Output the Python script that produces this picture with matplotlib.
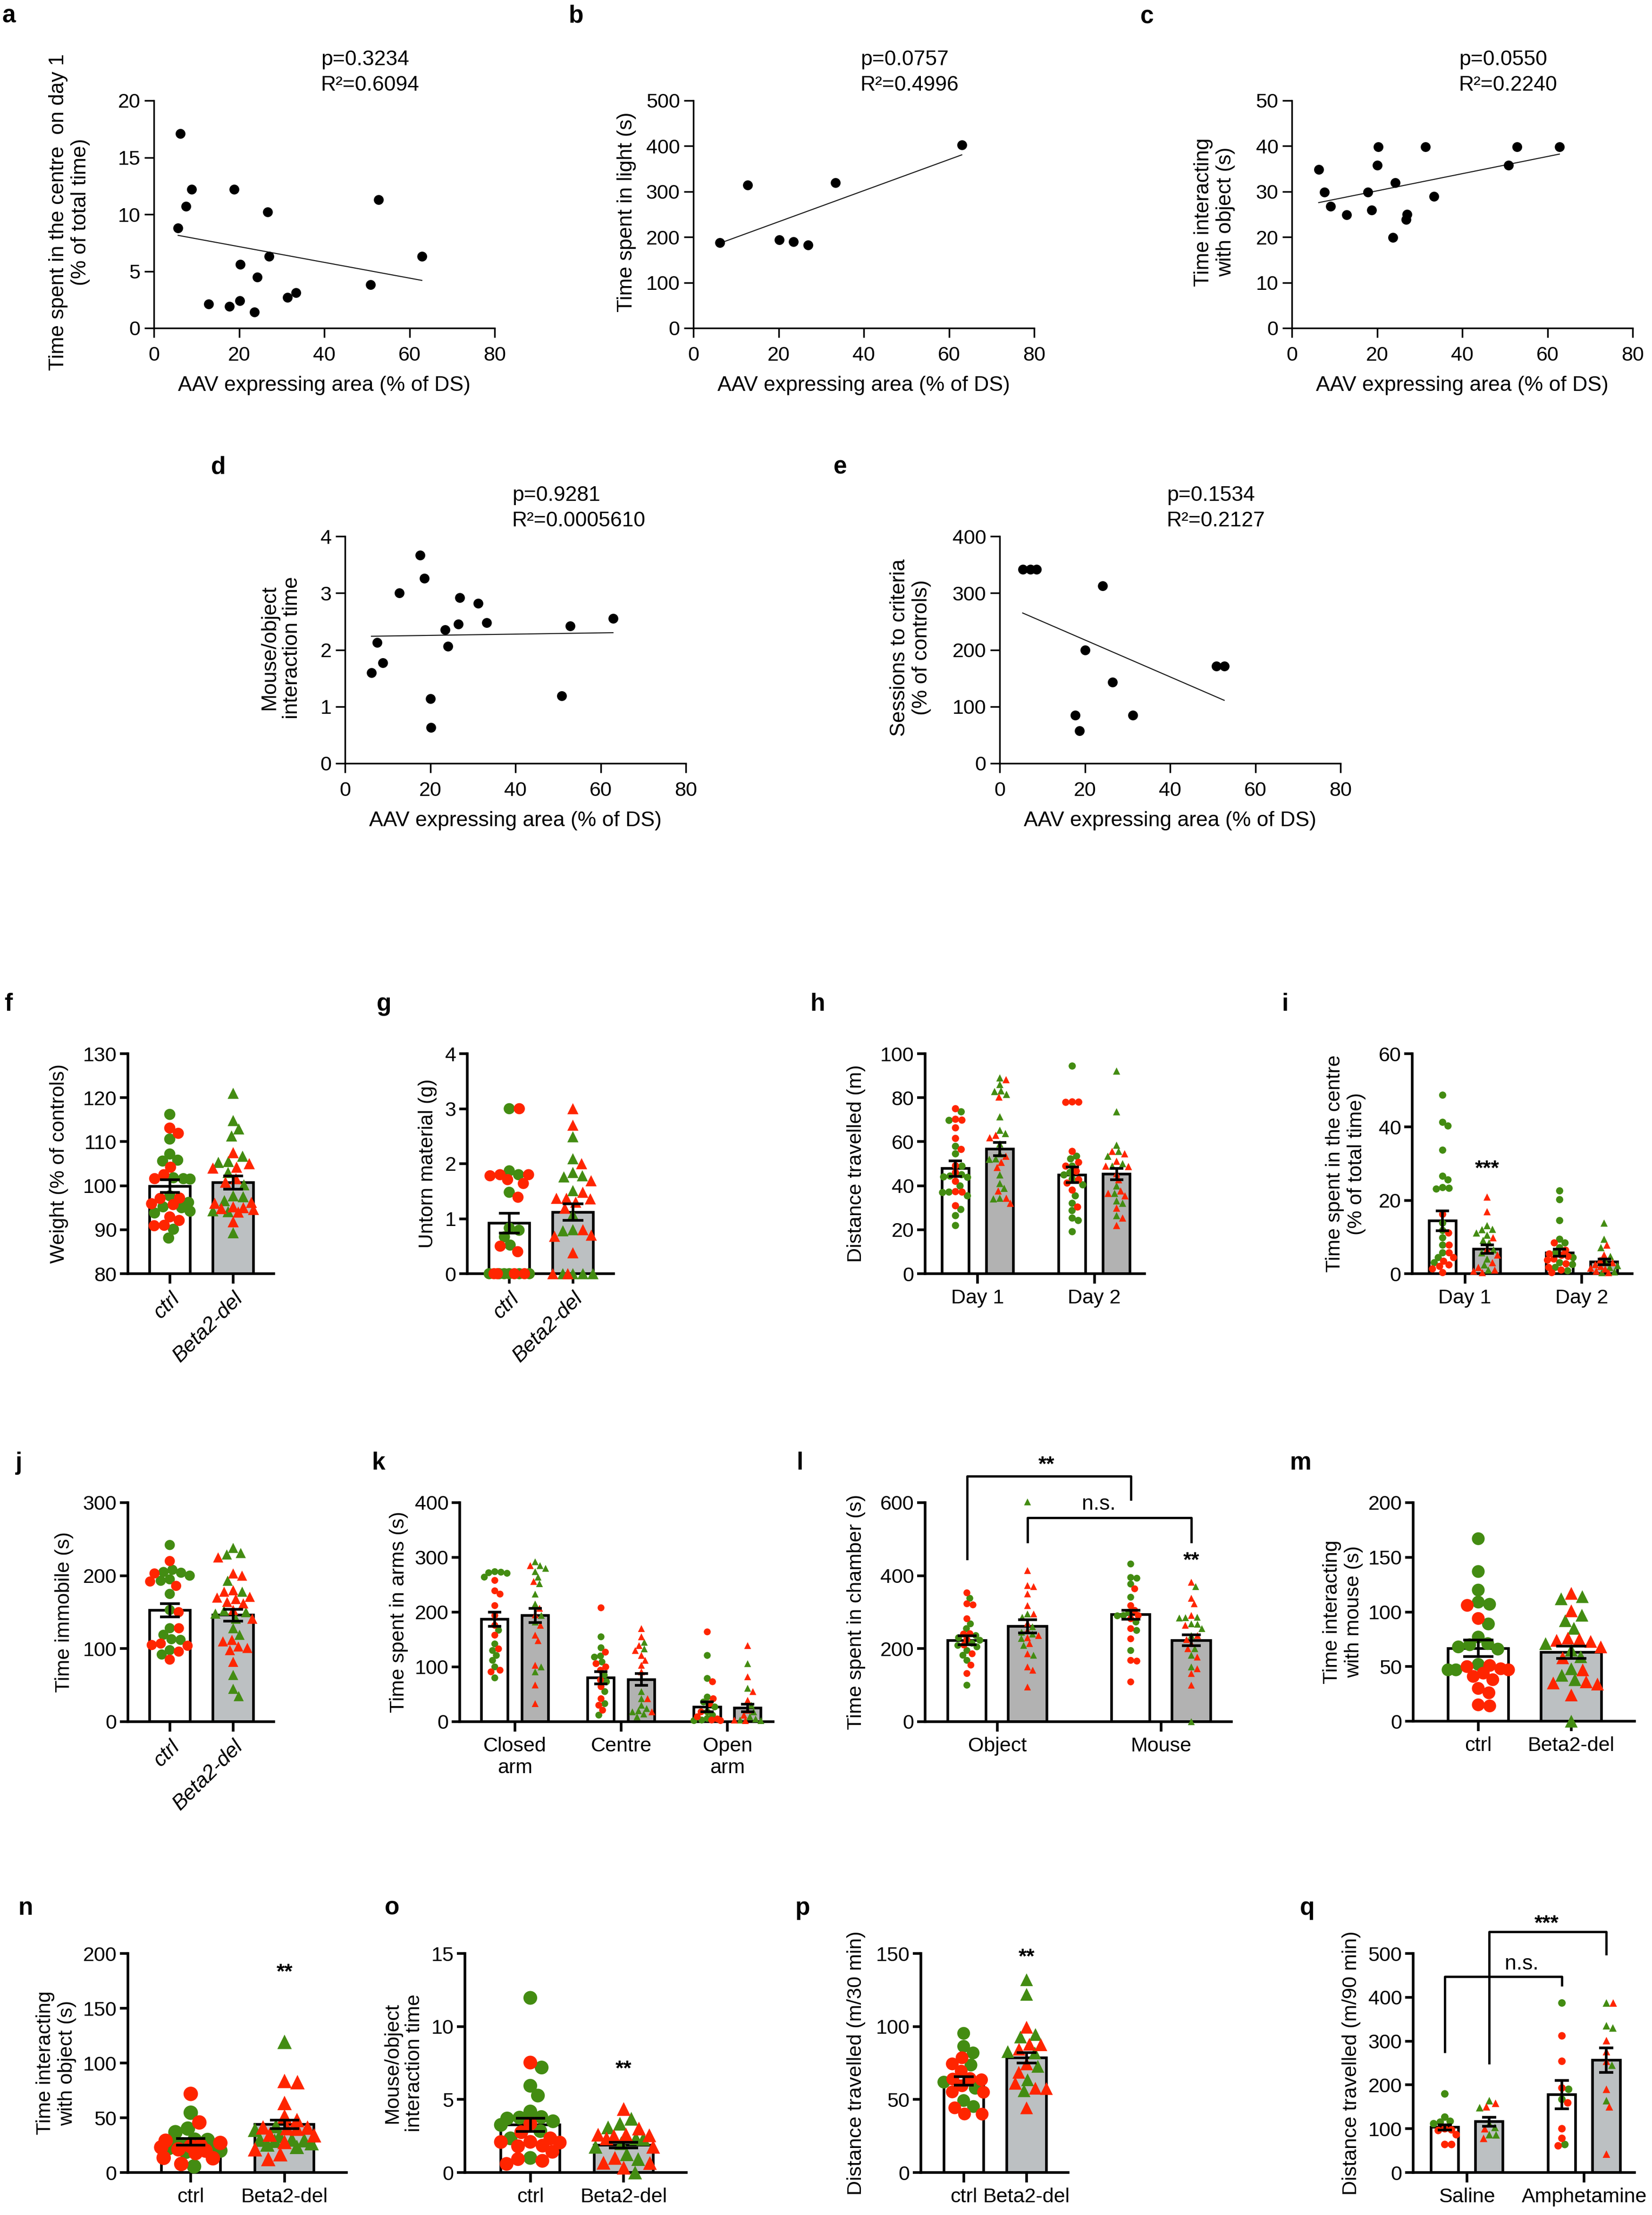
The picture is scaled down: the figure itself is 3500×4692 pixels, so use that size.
import numpy as np
import matplotlib
matplotlib.use('Agg')
import matplotlib.pyplot as plt

# ---------------- data ----------------
# a-e: AAV expressing area (% of DS) against behaviour
a_x = [5.7, 6.2, 7.5, 8.9, 12.8, 17.7, 18.8, 20.2, 20.3, 23.6, 24.3, 26.7, 27.0, 31.4, 33.3, 50.9, 52.7, 62.9]
a_y = [8.8, 17.1, 10.7, 12.2, 2.1, 1.9, 12.2, 2.4, 5.6, 1.4, 4.5, 10.2, 6.3, 2.7, 3.1, 3.8, 11.3, 6.3]
b_x = [6.2, 12.7, 20.2, 23.5, 26.9, 33.3, 63.0]
b_y = [188, 314, 194, 190, 183, 320, 403]
c_x = [6.3, 7.6, 9.1, 12.9, 17.8, 18.7, 20.1, 20.3, 23.7, 24.3, 26.8, 27.0, 31.4, 33.4, 50.9, 52.8, 62.8]
c_y = [34.9, 29.9, 26.8, 24.9, 29.9, 25.9, 35.8, 39.8, 19.9, 31.9, 23.9, 25.0, 39.8, 28.9, 35.8, 39.8, 39.8]
d_x = [6.2, 7.5, 8.9, 12.7, 17.6, 18.6, 20.0, 20.2, 23.5, 24.2, 26.6, 26.9, 31.2, 33.2, 50.9, 52.8, 62.9]
d_y = [1.60, 2.13, 1.77, 3.00, 3.67, 3.26, 1.14, 0.63, 2.35, 2.06, 2.45, 2.92, 2.82, 2.48, 1.19, 2.42, 2.55]
e_x = [5.4, 7.2, 8.6, 17.7, 18.7, 20.0, 24.1, 26.5, 31.3, 50.9, 52.7]
e_y = [342, 342, 342, 85, 57, 200, 313, 143, 85, 171, 171]
stats_p = ['p=0.3234', 'p=0.0757', 'p=0.0550', 'p=0.9281', 'p=0.1534']
stats_r2 = ['R²=0.6094', 'R²=0.4996', 'R²=0.2240', 'R²=0.0005610', 'R²=0.2127']

# f: weight
f_ctrl_green = [116.2, 110.6, 107.2, 105.8, 105.6, 101.8, 101.6, 101.5, 97.7, 96.2, 95.2, 95.0, 94.2, 93.8, 90.1, 88.1]
f_ctrl_red = [113.1, 111.9, 104.2, 102.5, 101.6, 97.2, 97.1, 95.9, 95.7, 92.9, 92.1, 91.0, 90.9]
f_del_green = [121.0, 114.8, 112.9, 111.3, 106.7, 105.5, 105.3, 103.0, 100.2, 97.7, 97.5, 96.6, 94.3, 94.1, 89.3]
f_del_red = [107.5, 105.0, 104.2, 104.0, 101.6, 100.8, 96.2, 96.0, 95.2, 95.0, 94.8, 94.6, 94.0, 91.8]
f_mean = [99.9, 100.7]
f_sem = [1.4, 1.5]

# g: untorn material
g_ctrl_green = [3.0, 1.87, 1.8, 1.48, 0.83, 0.79, 0.67, 0.52, 0, 0, 0, 0, 0, 0]
g_ctrl_red = [3.0, 1.8, 1.8, 1.78, 1.71, 1.64, 1.39, 0.5, 0.4, 0, 0, 0, 0]
g_del_green = [2.49, 2.09, 1.84, 1.78, 1.76, 1.51, 1.08, 0.8, 0.78, 0, 0, 0, 0]
g_del_red = [3.0, 2.7, 2.0, 1.69, 1.48, 1.37, 1.37, 1.36, 1.3, 1.19, 0.8, 0.7, 0.68, 0.38, 0, 0]
g_mean = [0.92, 1.12]
g_sem = [0.18, 0.15]

# h: distance travelled, Day 1 / Day 2
h_ctrl_green = [[73.6, 69.7, 57.9, 54.5, 48.9, 45.0, 44.4, 44.0, 43.8, 39.9, 37.1, 36.9, 35.4, 29.2, 26.4, 21.9],
                [94.4, 53.4, 52.2, 48.9, 46.0, 44.9, 43.0, 40.4, 35.4, 32.0, 28.7, 25.3, 24.2, 19.1]]
h_ctrl_red = [[75.0, 70.2, 69.8, 66.3, 61.5, 56.5, 49.1, 46.0, 42.0, 37.3, 37.1, 30.9],
              [78.1, 78.0, 77.9, 55.6, 50.6, 48.9, 46.6, 42.7, 41.2, 38.0, 30.3]]
h_del_green = [[89.0, 86.0, 83.1, 82.8, 81.5, 71.3, 65.2, 63.7, 59.0, 54.5, 52.2, 52.0, 44.9, 41.0, 38.8, 34.3, 34.0],
               [92.1, 73.6, 58.4, 55.6, 53.4, 50.0, 48.9, 39.9, 36.5, 33.1, 32.0, 26.4]]
h_del_red = [[88.2, 80.3, 62.9, 61.8, 53.4, 50.6, 48.3, 37.6, 34.3, 32.0],
             [55.6, 54.5, 51.1, 48.9, 48.7, 45.5, 42.7, 37.6, 36.5, 35.4, 29.8, 25.3, 21.9]]
h_mean_ctrl = [47.8, 44.9]
h_sem_ctrl = [3.5, 3.5]
h_mean_del = [56.7, 45.2]
h_sem_del = [3.0, 2.6]

# i: time in centre, Day 1 / Day 2
i_ctrl_green = [[48.7, 41.3, 40.3, 33.7, 26.6, 25.6, 23.5, 23.3, 23.1, 13.8, 11.8, 9.8, 7.8, 5.7, 4.4, 3.0],
                [22.6, 20.2, 14.5, 9.4, 8.4, 7.1, 5.7, 4.4, 3.0, 2.5, 1.7, 0.8]]
i_ctrl_red = [[16.2, 11.1, 7.8, 5.7, 4.4, 3.4, 2.4, 2.0, 1.3, 0.3],
              [8.4, 6.4, 5.4, 5.0, 4.7, 4.0, 3.7, 2.7, 1.7, 1.0, 0.3]]
i_del_green = [[13.1, 12.1, 12.0, 11.1, 10.5, 9.1, 8.4, 6.5, 5.7, 4.0, 2.4, 1.0],
               [13.8, 9.4, 7.1, 4.7, 3.0, 2.2, 1.7, 0.5, 0.3]]
i_del_red = [[20.9, 16.9, 9.8, 6.7, 5.1, 3.0, 1.7, 1.0, 0.7, 0.3],
             [7.8, 5.1, 3.7, 3.0, 2.5, 2.0, 1.5, 1.3, 0.7, 0.3]]
i_mean_ctrl = [14.4, 5.7]
i_sem_ctrl = [2.7, 1.0]
i_mean_del = [6.7, 3.2]
i_sem_del = [1.2, 0.8]

# j: time immobile
j_ctrl_green = [242, 208, 205, 204, 200, 195, 193, 175, 153, 128, 119, 113, 112, 98, 92]
j_ctrl_red = [220, 203, 192, 186, 150, 128, 107, 105, 104, 96, 85]
j_del_green = [238, 231, 229, 193, 178, 152, 150, 148, 141, 128, 119, 64, 45, 35]
j_del_red = [225, 203, 200, 180, 178, 171, 170, 168, 164, 162, 153, 141, 112, 110, 103, 101, 98, 82]
j_mean = [152.7, 145.9]
j_sem = [9, 8]

# k: time spent in arms, Closed arm / Centre / Open arm
k_ctrl_green = [[274, 273, 272, 271, 264, 167, 142, 130, 121, 112, 100, 80],
                [155, 135, 120, 118, 109, 85, 73, 55, 33, 12],
                [121, 79, 45, 36, 27, 18, 12, 6, 3, 2]]
k_ctrl_red = [[258, 239, 233, 212, 194, 176, 158, 133, 94, 91],
              [208, 127, 106, 100, 94, 76, 64, 42, 30, 21],
              [164, 73, 42, 33, 18, 9, 5, 3, 2]]
k_del_green = [[292, 285, 280, 274, 264, 252, 233, 215, 194, 182, 100, 91],
               [145, 133, 55, 42, 30, 24, 20, 18, 14, 9],
               [106, 61, 30, 18, 9, 5, 3, 2]]
k_del_red = [[285, 256, 207, 195, 176, 158, 148, 103, 67, 33],
             [170, 155, 139, 130, 121, 112, 103, 91, 42, 18],
             [139, 82, 55, 39, 21, 12, 3, 2]]
k_mean_ctrl = [187, 80, 27]
k_sem_ctrl = [13, 11, 9]
k_mean_del = [194, 77, 25]
k_sem_del = [13, 11, 7]

# l: time spent in chamber, Object / Mouse
l_ctrl_green = [[338, 268, 255, 236, 230, 223, 215, 209, 205, 195, 182, 168, 100],
                [432, 395, 393, 377, 341, 300, 291, 290, 273, 250, 195]]
l_ctrl_red = [[353, 323, 320, 282, 241, 240, 225, 210, 186, 155, 132],
              [364, 318, 305, 291, 282, 255, 227, 168, 166, 109]]
l_del_green = [[602, 295, 286, 260, 245, 240, 228, 209, 182],
               [370, 286, 285, 284, 268, 267, 255, 236, 200, 182, 150, 0]]
l_del_red = [[414, 373, 370, 350, 318, 295, 270, 250, 236, 230, 214, 186, 150, 141, 95],
             [382, 338, 323, 291, 264, 236, 225, 214, 200, 177, 145, 132, 100]]
l_mean_ctrl = [223, 293]
l_sem_ctrl = [12, 12]
l_mean_del = [261, 223]
l_sem_del = [18, 15]

# m: time interacting with mouse
m_ctrl_green = [167, 137, 120, 109, 107, 89, 77, 71, 70, 68, 66, 52, 47, 47]
m_ctrl_red = [106, 94, 51, 50, 48, 47, 44, 41, 38, 30, 26, 15, 14]
m_del_green = [114, 112, 97, 92, 85, 71, 65, 59, 48, 42, 38, 0]
m_del_red = [117, 101, 76, 75, 74, 73, 68, 58, 47, 36, 35, 34, 24]
m_mean = [66.7, 63.0]
m_sem = [7.5, 5.5]

# n: time interacting with object
n_ctrl_green = [54.6, 40.1, 36.8, 30, 29.7, 25.6, 25, 24, 22.3, 20, 18.9, 5.6]
n_ctrl_red = [71.8, 45.7, 29, 27, 24.5, 24, 23, 21.2, 20, 17.8, 13.4, 13, 7.8]
n_del_green = [119.3, 42.4, 39, 33.4, 30.1, 30, 29.5, 29, 26.8, 25.6, 23.4]
n_del_red = [83.6, 82.5, 63.5, 51.3, 47.9, 41.2, 41, 40.5, 40, 34.6, 34, 27.9, 21.2, 16.7, 12.3]
n_mean = [27.9, 43.9]
n_sem = [3.0, 4.0]

# o: mouse/object interaction time
o_ctrl_green = [11.96, 7.19, 5.94, 5.27, 4.18, 3.8, 3.76, 3.7, 3.51, 3.26, 2.84, 2.34, 1.0]
o_ctrl_red = [7.53, 3.34, 2.76, 2.34, 2.1, 2.09, 2.05, 1.84, 1.8, 1.42, 0.92, 0.8, 0.59]
o_del_green = [3.68, 3.34, 3.09, 2.34, 2.3, 2.01, 1.76, 1.25, 0.92, 0.0]
o_del_red = [4.35, 3.01, 2.6, 2.59, 2.55, 2.5, 2.34, 1.76, 1.0, 0.67, 0.65, 0.33]
o_mean = [3.26, 1.87]
o_sem = [0.45, 0.2]

# p: distance travelled (m/30 min)
p_ctrl_green = [95.3, 86.4, 81.9, 73.6, 61.9, 57.7, 49.3, 45.2]
p_ctrl_red = [78.6, 74.4, 69.4, 64.4, 64.0, 63.5, 59.4, 55.2, 55.0, 44.3, 40.1, 40.0]
p_del_green = [132, 122, 94.5, 92.8, 82.8, 81.9, 72.7, 63.5, 56]
p_del_red = [99.5, 87.8, 87.5, 84.4, 74.4, 68.6, 61.1, 57.7, 57.5, 44.3]
p_mean = [62.7, 78.6]
p_sem = [3.0, 3.5]

# q: distance travelled (m/90 min), Saline / Amphetamine
q_ctrl_green = [[179.5, 126.5, 117, 115, 111.5], [387, 190, 167, 64]]
q_ctrl_red = [[100, 97.5, 96, 86.4, 64.1, 64], [312, 254, 193, 159, 100, 78, 61]]
q_del_green = [[164, 148, 111.5, 103, 86.4, 86], [387, 335, 330, 245, 164]]
q_del_red = [[158, 150, 100, 78], [387, 301, 276, 254, 190, 150, 42]]
q_mean_ctrl = [103, 178]
q_sem_ctrl = [6, 32]
q_mean_del = [116, 256]
q_sem_del = [10, 28]

geno = ['ctrl', 'Beta2-del']

# ---------------- figure ----------------
W, H = 3500, 4692
plt.rcParams['font.family'] = ['Liberation Sans', 'DejaVu Sans']
fig = plt.figure(figsize=(W / 100, H / 100), dpi=100)

GREEN = '#438c12'
RED = '#ff2500'
GREY = '#bcc0c2'
GREY2 = '#b2b2b2'
FS = 31


def add_ax(box):
    l, t, r, b = box
    return fig.add_axes([l / W, 1 - b / H, (r - l) / W, (b - t) / H])


def style(ax, lw, ylen, xlen, fs, ypad, xpad):
    for s in ['top', 'right']:
        ax.spines[s].set_visible(False)
    for s in ['left', 'bottom']:
        ax.spines[s].set_linewidth(lw)
    ax.tick_params(axis='y', direction='out', length=ylen, width=lw, labelsize=fs, pad=ypad)
    ax.tick_params(axis='x', direction='out', length=xlen, width=lw, labelsize=fs, pad=xpad)


def ylab(ax, box, text, x_px, y=0.5, fs=FS, **kw):
    l, t, r, b = box
    ax.set_ylabel(text, fontsize=fs, **kw)
    ax.yaxis.set_label_coords((x_px - l) / (r - l), y)


def letter(ch, x, y):
    fig.text(x / W, 1 - y / H, ch, fontsize=37, fontweight='bold', ha='left', va='baseline')


def swarm(ax, xc, vals, cols, marker, ms, halfw):
    vals = np.asarray(vals, dtype=float)
    tr = ax.transData
    pix = tr.transform(np.column_stack([np.full(len(vals), xc), vals]))
    d = ms * fig.dpi / 72.0 * 0.9
    hw = abs(tr.transform((xc + halfw, 0))[0] - tr.transform((xc, 0))[0])
    placed = []
    offs = np.zeros(len(vals))
    for i in np.argsort(-vals, kind='stable'):
        y = pix[i, 1]
        cands = [0.0]
        for px, py in placed:
            dy = y - py
            if abs(dy) < d:
                dx = np.sqrt(d * d - dy * dy)
                cands += [px + dx, px - dx]
        cands.sort(key=abs)
        best = None
        for c in cands:
            if abs(c) > hw:
                continue
            if all((c - px) ** 2 + (y - py) ** 2 >= d * d * 0.999 for px, py in placed):
                best = c
                break
        if best is None:
            grid = np.linspace(-hw, hw, 25)
            best = max(grid, key=lambda c: min((c - px) ** 2 + (y - py) ** 2 for px, py in placed))
        placed.append((best, y))
        offs[i] = best
    xs = tr.inverted().transform(np.column_stack([pix[:, 0] + offs, pix[:, 1]]))[:, 0]
    ax.scatter(xs, vals, s=ms ** 2, c=cols, marker=marker, linewidths=0, zorder=3, clip_on=False)


def bars(ax, xs, means, sems, greens, reds, marker, face, width, ms):
    tr = ax.transData
    bar_px = abs(tr.transform((width, 0))[0] - tr.transform((0, 0))[0])
    for x, m, g, r in zip(xs, means, greens, reds):
        ax.bar(x, m, width, color=face, edgecolor='black', linewidth=4, zorder=1)
        swarm(ax, x, list(g) + list(r), [GREEN] * len(g) + [RED] * len(r), marker, ms, width / 2)
    ax.errorbar(xs, means, yerr=sems, fmt='none', ecolor='black', elinewidth=4,
                capsize=0.25 * bar_px * 0.72, capthick=4, zorder=4)


def bar_axes(box, xlim, ylim, ystep, ylabel, lab_px, ticks, labels, rotate=False):
    ax = add_ax(box)
    ax.set_xlim(*xlim)
    ax.set_ylim(*ylim)
    ax.set_yticks(np.arange(ylim[0], ylim[1] + ystep / 2, ystep))
    style(ax, 4, 12, 15, FS, 5, 8)
    ax.set_xticks(ticks)
    if rotate:
        ax.set_xticklabels(labels, rotation=45, ha='right', va='top',
                           rotation_mode='anchor', fontstyle='italic', fontsize=32)
    else:
        ax.set_xticklabels(labels)
    ylab(ax, box, ylabel, lab_px)
    return ax


def stars(ax, x, y, txt):
    ax.annotate(txt, (x, y), xytext=(0, -17), textcoords='offset points', ha='center',
                va='baseline', fontsize=32, fontweight='bold', annotation_clip=False)


def scatter_panel(box, x, y, ytop, ystep, ylabel, lab_px, ptxt, rtxt):
    ax = add_ax(box)
    ax.set_xlim(0, 80)
    ax.set_ylim(0, ytop)
    ax.set_xticks(np.arange(0, 81, 20))
    ax.set_yticks(np.arange(0, ytop + ystep / 2, ystep))
    style(ax, 2.5, 14.5, 14.5, 31, 6, 13)
    ax.scatter(x, y, s=15 ** 2, color='black', linewidths=0, zorder=3, clip_on=False)
    k, c0 = np.polyfit(x, y, 1)
    xx = np.array([min(x), max(x)])
    ax.plot(xx, k * xx + c0, color='#1a1a1a', lw=1.6, zorder=2)
    ax.set_xlabel('AAV expressing area (% of DS)', fontsize=32)
    ax.xaxis.set_label_coords(0.5, -0.21)
    ylab(ax, box, ylabel, lab_px, y=0.51, fs=32, multialignment='center')
    ax.text(0.49, 1.18, ptxt, transform=ax.transAxes, fontsize=32, va='center')
    ax.text(0.49, 1.068, rtxt, transform=ax.transAxes, fontsize=32, va='center')
    return ax


# ---- a-e ----
box = (326, 213, 1048, 695)
scatter_panel(box, a_x, a_y, 20, 5, 'Time spent in the centre  on day 1\n(% of total time)',
              191, stats_p[0], stats_r2[0])
box = (1469, 213, 2191, 695)
scatter_panel(box, b_x, b_y, 500, 100, 'Time spent in light (s)', 1348, stats_p[1], stats_r2[1])
box = (2737, 213, 3459, 695)
scatter_panel(box, c_x, c_y, 50, 10, 'Time interacting\nwith object (s)', 2617, stats_p[2], stats_r2[2])
box = (731, 1136, 1453, 1617)
scatter_panel(box, d_x, d_y, 4, 1, 'Mouse/object\ninteraction time', 639, stats_p[3], stats_r2[3])
box = (2118, 1136, 2840, 1617)
scatter_panel(box, e_x, e_y, 400, 100, 'Sessions to criteria\n(% of controls)', 1973, stats_p[4], stats_r2[4])

# ---- f ----
box = (271, 2232, 580, 2698)
ax = bar_axes(box, (-0.66, 1.64), (80, 130), 10, 'Weight (% of controls)', 145, [0, 1], geno, rotate=True)
bars(ax, [0], f_mean[:1], f_sem[:1], [f_ctrl_green], [f_ctrl_red], 'o', 'white', 0.64, 17)
bars(ax, [1], f_mean[1:], f_sem[1:], [f_del_green], [f_del_red], '^', GREY, 0.64, 17)

# ---- g ----
box = (990, 2232, 1300, 2698)
ax = bar_axes(box, (-0.66, 1.64), (0, 4), 1, 'Untorn material (g)', 926, [0, 1], geno, rotate=True)
bars(ax, [0], g_mean[:1], g_sem[:1], [g_ctrl_green], [g_ctrl_red], 'o', 'white', 0.64, 17)
bars(ax, [1], g_mean[1:], g_sem[1:], [g_del_green], [g_del_red], '^', GREY, 0.64, 17)

# ---- h ----
off = 0.19
box = (1960, 2232, 2425, 2698)
ax = bar_axes(box, (-0.45, 1.43), (0, 100), 20, 'Distance travelled (m)', 1834, [0, 1], ['Day 1', 'Day 2'])
bars(ax, [-off, 1 - off], h_mean_ctrl, h_sem_ctrl, h_ctrl_green, h_ctrl_red, 'o', 'white', 0.23, 11)
bars(ax, [off, 1 + off], h_mean_del, h_sem_del, h_del_green, h_del_red, '^', GREY2, 0.23, 11)

# ---- i ----
box = (2992, 2232, 3458, 2698)
ax = bar_axes(box, (-0.45, 1.43), (0, 60), 20, 'Time spent in the centre\n(% of total time)', 2894,
              [0, 1], ['Day 1', 'Day 2'])
bars(ax, [-off, 1 - off], i_mean_ctrl, i_sem_ctrl, i_ctrl_green, i_ctrl_red, 'o', 'white', 0.23, 11)
bars(ax, [off, 1 + off], i_mean_del, i_sem_del, i_del_green, i_del_red, '^', GREY2, 0.23, 11)
stars(ax, off, 30, '***')

# ---- j ----
box = (271, 3183, 580, 3647)
ax = bar_axes(box, (-0.66, 1.64), (0, 300), 100, 'Time immobile (s)', 156, [0, 1], geno, rotate=True)
bars(ax, [0], j_mean[:1], j_sem[:1], [j_ctrl_green], [j_ctrl_red], 'o', 'white', 0.64, 15.5)
bars(ax, [1], j_mean[1:], j_sem[1:], [j_del_green], [j_del_red], '^', GREY, 0.64, 15.5)

# ---- k ----
box = (974, 3183, 1638, 3647)
ax = bar_axes(box, (-0.52, 2.43), (0, 400), 100, 'Time spent in arms (s)', 865, [0, 1, 2],
              ['Closed\narm', 'Centre', 'Open\narm'])
bars(ax, [-off, 1 - off, 2 - off], k_mean_ctrl, k_sem_ctrl, k_ctrl_green, k_ctrl_red, 'o', 'white', 0.25, 10.5)
bars(ax, [off, 1 + off, 2 + off], k_mean_del, k_sem_del, k_del_green, k_del_red, '^', GREY2, 0.25, 10.5)

# ---- l ----
lo = 0.185
box = (1960, 3183, 2609, 3647)
ax = bar_axes(box, (-0.44, 1.43), (0, 600), 200, 'Time spent in chamber (s)', 1834, [0, 1], ['Object', 'Mouse'])
bars(ax, [-lo, 1 - lo], l_mean_ctrl, l_sem_ctrl, l_ctrl_green, l_ctrl_red, 'o', 'white', 0.234, 10.5)
bars(ax, [lo, 1 + lo], l_mean_del, l_sem_del, l_del_green, l_del_red, '^', GREY2, 0.234, 10.5)
ax.plot([-lo, -lo, 1 - lo, 1 - lo], [446, 673, 673, 609], color='black', lw=3.5, clip_on=False)
ax.plot([lo, lo, 1 + lo, 1 + lo], [493, 559, 559, 493], color='black', lw=3.5, clip_on=False)
stars(ax, 0.3, 718, '**')
ax.text(0.62, 596, 'n.s.', fontsize=32, ha='center', va='center')
stars(ax, 1 + lo, 455, '**')

# ---- m ----
box = (2994, 3183, 3463, 3646)
ax = bar_axes(box, (-0.70, 1.68), (0, 200), 50, 'Time interacting\nwith mouse (s)', 2888, [0, 1], geno)
bars(ax, [0], m_mean[:1], m_sem[:1], [m_ctrl_green], [m_ctrl_red], 'o', 'white', 0.65, 19.5)
bars(ax, [1], m_mean[1:], m_sem[1:], [m_del_green], [m_del_red], '^', GREY, 0.65, 19.5)

# ---- n ----
box = (271, 4138, 734, 4602)
ax = bar_axes(box, (-0.67, 1.66), (0, 200), 50, 'Time interacting\nwith object (s)', 162, [0, 1], geno)
bars(ax, [0], n_mean[:1], n_sem[:1], [n_ctrl_green], [n_ctrl_red], 'o', 'white', 0.63, 22)
bars(ax, [1], n_mean[1:], n_sem[1:], [n_del_green], [n_del_red], '^', GREY, 0.63, 22)
stars(ax, 1, 187.5, '**')

# ---- o ----
box = (985, 4138, 1454, 4602)
ax = bar_axes(box, (-0.70, 1.67), (0, 15), 5, 'Mouse/object\ninteraction time', 898, [0, 1], geno)
bars(ax, [0], o_mean[:1], o_sem[:1], [o_ctrl_green], [o_ctrl_red], 'o', 'white', 0.63, 21)
bars(ax, [1], o_mean[1:], o_sem[1:], [o_del_green], [o_del_red], '^', GREY, 0.63, 21)
stars(ax, 1, 7.44, '**')

# ---- p ----
box = (1951, 4138, 2263, 4602)
ax = bar_axes(box, (-0.68, 1.66), (0, 150), 50, 'Distance travelled (m/30 min)', 1834, [0, 1], geno)
bars(ax, [0], p_mean[:1], p_sem[:1], [p_ctrl_green], [p_ctrl_red], 'o', 'white', 0.63, 19.5)
bars(ax, [1], p_mean[1:], p_sem[1:], [p_del_green], [p_del_red], '^', GREY, 0.63, 19.5)
stars(ax, 1, 151, '**')

# ---- q ----
box = (2994, 4138, 3463, 4602)
ax = bar_axes(box, (-0.46, 1.43), (0, 500), 100, 'Distance travelled (m/90 min)', 2883, [0, 1],
              ['Saline', 'Amphetamine'])
bars(ax, [-off, 1 - off], q_mean_ctrl, q_sem_ctrl, q_ctrl_green, q_ctrl_red, 'o', 'white', 0.235, 11.5)
bars(ax, [off, 1 + off], q_mean_del, q_sem_del, q_del_green, q_del_red, '^', GREY, 0.235, 11.5)
ax.plot([off, off, 1 + off, 1 + off], [250, 550, 550, 499], color='black', lw=3.5, clip_on=False)
ax.plot([-off, -off, 1 - off, 1 - off], [276, 447, 447, 428], color='black', lw=3.5, clip_on=False)
stars(ax, 0.68, 580, '***')
ax.text(0.466, 476, 'n.s.', fontsize=32, ha='center', va='center')

# ---- panel letters ----
for ch, x, y in [('a', 4, 47), ('b', 1205, 47), ('c', 2416, 49), ('d', 447, 1003), ('e', 1766, 1003),
                 ('f', 9, 2141), ('g', 798, 2141), ('h', 1716, 2141), ('i', 2715, 2141),
                 ('j', 33, 3113), ('k', 787, 3113), ('l', 1687, 3113), ('m', 2732, 3113),
                 ('n', 39, 4056), ('o', 815, 4056), ('p', 1685, 4056), ('q', 2754, 4056)]:
    letter(ch, x, y)

fig.savefig('out.png', dpi=100, facecolor='white')
